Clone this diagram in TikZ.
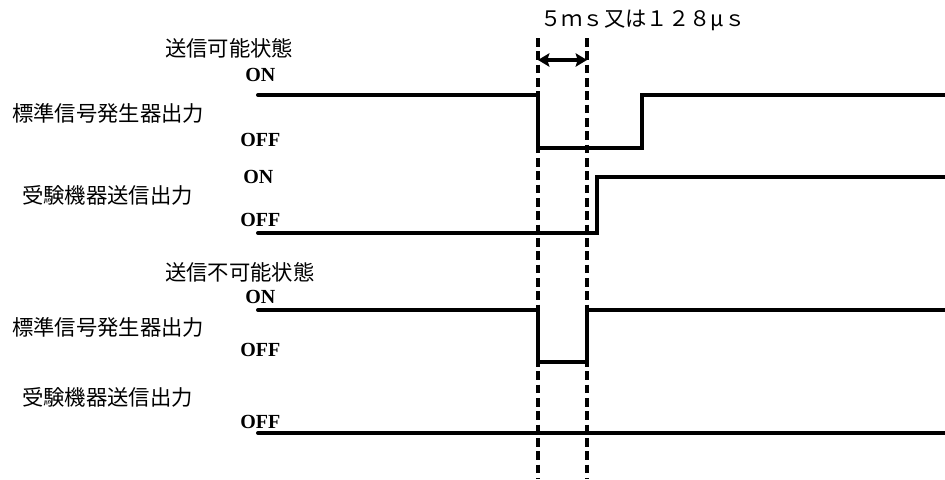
\documentclass[tikz,border=0pt]{standalone}
\usepackage{fontspec}
\setmainfont{Liberation Serif}
\newfontfamily\jpfont{Noto Sans CJK JP}
\usetikzlibrary{
        arrows,
        arrows.meta,
        positioning
    }
\tikzset{>={Stealth[length=8.5pt,width=10pt,inset=1.5pt]}}
\tikzset{
    jplabel/.style={font=\jpfont\fontsize{16}{18}\selectfont, inner sep=0pt, anchor=west},
    level/.style={font=\bfseries\fontsize{15}{17}\selectfont, inner sep=0pt, anchor=west},
    signal/.style={line width=3pt, line cap=round, line join=miter},
    marker/.style={line width=2.4pt, dash pattern=on 6.5pt off 3.5pt}
}

\begin{document}
\begin{tikzpicture}[x=0.75pt,y=-0.75pt]
                \useasboundingbox (0,0) rectangle (945,479);
                % timing marks
                \coordinate (m0) at (538,38);
                \coordinate (m0end) at (538,479);
                \coordinate (m1) at (587,38);
                \coordinate (m1end) at (587,479);
                \coordinate (w0) at (538,60);
                \coordinate (w1) at (587,60);
                \draw[marker] (m0) -- (m0end);
                \draw[marker] (m1) -- (m1end);
                \draw[<->, line width=2.4pt] (w0) -- (w1);
                \node[jplabel] (width) at (540,20) {５ｍｓ又は１２８μｓ};
                % transmit possible
                \node[jplabel] (ok)   at (165,48)  {送信可能状態};
                \node[level]   (on1)  at (245,75)  {ON};
                \node[jplabel] (std1) at (12,113)  {標準信号発生器出力};
                \node[level]   (off1) at (240,140) {OFF};
                \node[level]   (on2)  at (243,177) {ON};
                \node[jplabel] (dut1) at (22,195)  {受験機器送信出力};
                \node[level]   (off2) at (240,220) {OFF};
                \draw[signal] (258,95) -- (538,95) -- (538,148) -- (642,148) -- (642,95) -- (945,95);
                \draw[signal] (258,233) -- (597,233) -- (597,177) -- (945,177);
                % transmit impossible
                \node[jplabel] (ng)   at (165,272) {送信不可能状態};
                \node[level]   (on3)  at (245,297) {ON};
                \node[jplabel] (std2) at (12,327)  {標準信号発生器出力};
                \node[level]   (off3) at (240,350) {OFF};
                \node[jplabel] (dut2) at (22,397)  {受験機器送信出力};
                \node[level]   (off4) at (240,422) {OFF};
                \draw[signal] (258,310) -- (538,310) -- (538,362) -- (587,362) -- (587,310) -- (945,310);
                \draw[signal] (258,433) -- (945,433);
            \end{tikzpicture}
\end{document}
